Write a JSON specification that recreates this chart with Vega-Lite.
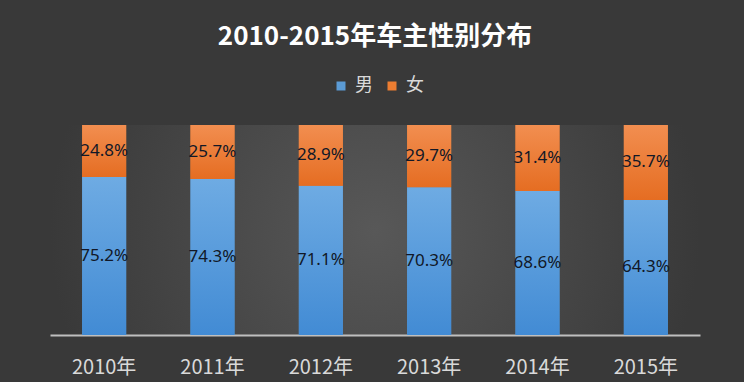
{
  "$schema": "https://vega.github.io/schema/vega-lite/v6.json",
  "width": 650,
  "height": 210,
  "autosize": {"type": "none"},
  "padding": {"left": 50, "top": 125, "right": 44, "bottom": 47},
  "background": "#393939",
  "title": {
    "text": "2010-2015年车主性别分布",
    "color": "#ffffff",
    "fontSize": 26,
    "font": "Noto Sans CJK SC",
    "fontWeight": "bold",
    "offset": 27,
    "anchor": "middle"
  },
  "config": {
    "view": {
      "stroke": null,
      "fill": {
        "gradient": "radial",
        "x1": 0.5, "y1": 0.5, "r1": 0,
        "x2": 0.5, "y2": 0.5, "r2": 0.5,
        "stops": [
          {"offset": 0, "color": "#585858"},
          {"offset": 1, "color": "#393939"}
        ]
      }
    }
  },
  "data": {
    "values": [
      {"year": "2010年", "sex": "男", "pct": 0.752},
      {"year": "2010年", "sex": "女", "pct": 0.248},
      {"year": "2011年", "sex": "男", "pct": 0.743},
      {"year": "2011年", "sex": "女", "pct": 0.257},
      {"year": "2012年", "sex": "男", "pct": 0.711},
      {"year": "2012年", "sex": "女", "pct": 0.289},
      {"year": "2013年", "sex": "男", "pct": 0.703},
      {"year": "2013年", "sex": "女", "pct": 0.297},
      {"year": "2014年", "sex": "男", "pct": 0.686},
      {"year": "2014年", "sex": "女", "pct": 0.314},
      {"year": "2015年", "sex": "男", "pct": 0.643},
      {"year": "2015年", "sex": "女", "pct": 0.357}
    ]
  },
  "encoding": {
    "x": {
      "field": "year",
      "type": "nominal",
      "sort": null,
      "title": null,
      "scale": {"paddingInner": 0.594, "paddingOuter": 0.297},
      "axis": {
        "labelAngle": 0,
        "labelColor": "#d9d9d9",
        "labelFontSize": 20,
        "labelFont": "Noto Sans CJK SC",
        "labelPadding": 22,
        "domainColor": "#bfbfbf",
        "domainWidth": 2,
        "ticks": false,
        "grid": false
      }
    },
    "y": {
      "field": "pct",
      "type": "quantitative",
      "stack": "zero",
      "scale": {"domain": [0, 1]},
      "axis": null
    },
    "order": {"field": "sex", "sort": "descending"}
  },
  "layer": [
    {
      "mark": {"type": "bar"},
      "encoding": {
        "color": {
          "field": "sex",
          "type": "nominal",
          "scale": {"domain": ["男", "女"], "range": ["#5b9bd5", "#ed7d31"]},
          "legend": {
            "orient": "none",
            "legendX": 282,
            "legendY": -48,
            "direction": "horizontal",
            "title": null,
            "symbolType": "square",
            "symbolSize": 81,
            "symbolStrokeWidth": 0,
            "labelColor": "#d9d9d9",
            "labelFontSize": 18,
            "labelFont": "Noto Sans CJK SC",
            "labelOffset": 5,
            "columnPadding": 10
          }
        }
      }
    },
    {
      "mark": {"type": "bar"},
      "encoding": {
        "detail": {"field": "sex"},
        "fill": {
          "condition": {
            "test": "datum.sex === '男'",
            "value": {
              "gradient": "linear",
              "x1": 0, "y1": 0, "x2": 0, "y2": 1,
              "stops": [
                {"offset": 0, "color": "#6eabe3"},
                {"offset": 1, "color": "#428bd4"}
              ]
            }
          },
          "value": {
            "gradient": "linear",
            "x1": 0, "y1": 0, "x2": 0, "y2": 1,
            "stops": [
              {"offset": 0, "color": "#f28e50"},
              {"offset": 1, "color": "#e56d22"}
            ]
          }
        }
      }
    },
    {
      "mark": {"type": "text", "color": "#111827", "fontSize": 17, "font": "Noto Sans"},
      "encoding": {
        "y": {"field": "pct", "type": "quantitative", "stack": "zero", "bandPosition": 0.5},
        "detail": {"field": "sex"},
        "text": {"field": "pct", "type": "quantitative", "format": ".1%"}
      }
    }
  ]
}
